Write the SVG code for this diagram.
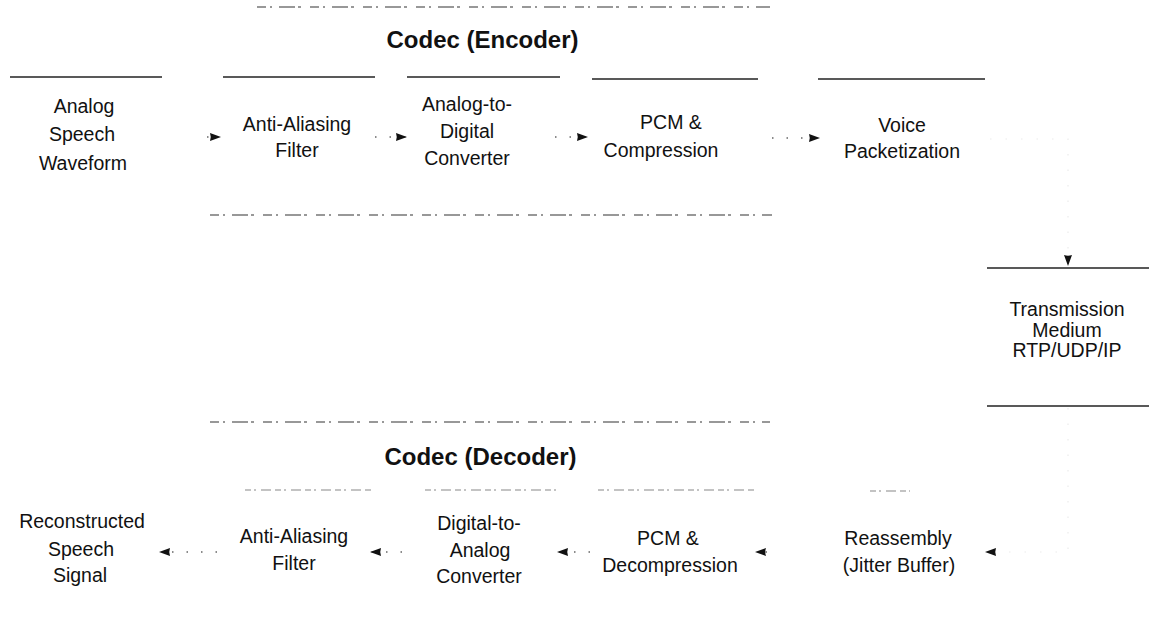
<svg xmlns="http://www.w3.org/2000/svg" width="1149" height="625" viewBox="0 0 1149 625">
  <style>
    .lbl { font-family: "Liberation Sans", Arial, sans-serif; font-size: 19.5px; fill: #111; text-anchor: middle; }
    .title { font-family: "Liberation Sans", Arial, sans-serif; font-size: 24px; font-weight: bold; fill: #111; text-anchor: middle; }
    .edge { stroke: #222; stroke-width: 1.5; fill: none; }
    .faint { stroke: #888; stroke-width: 1.2; fill: none; stroke-dasharray: 6 3 2 5 10 4; }
    .frame { stroke: #777; stroke-width: 1.3; fill: none; stroke-dasharray: 9 4 2 7 16 3 3 9; }
    .conn { stroke: #666; stroke-width: 1.6; fill: none; stroke-dasharray: 1.5 13; }
    .conn-ghost { stroke: #ececec; stroke-width: 1.2; fill: none; stroke-dasharray: 1.5 14; }
  </style>
  <defs>
    <marker id="ah" markerUnits="userSpaceOnUse" markerWidth="11" markerHeight="9" refX="11" refY="4.5" orient="auto">
      <path d="M0,0.5 L11,4.5 L0,8.5 Q1.5,4.5 0,0.5 Z" fill="#111"/>
    </marker>
  </defs>
  <rect width="1149" height="625" fill="#fff"/>

  <g id="encoder">
    <line class="frame" x1="257" y1="7" x2="770" y2="7"/>
    <text class="title" x="482.5" y="48">Codec (Encoder)</text>
    <line class="frame" x1="210" y1="215" x2="772" y2="215"/>
  </g>

  <g id="decoder">
    <line class="frame" x1="210" y1="422" x2="770" y2="422"/>
    <text class="title" x="480.5" y="465">Codec (Decoder)</text>
  </g>

  <g id="n-analog-speech">
    <line class="edge" x1="10" y1="77" x2="162" y2="77"/>
    <text class="lbl"><tspan x="84" y="113">Analog</tspan><tspan x="82" y="141">Speech</tspan><tspan x="83" y="170">Waveform</tspan></text>
  </g>
  <g id="n-anti-aliasing-enc">
    <line class="edge" x1="223" y1="77" x2="375" y2="77"/>
    <text class="lbl"><tspan x="297" y="131">Anti-Aliasing</tspan><tspan x="297" y="157">Filter</tspan></text>
  </g>
  <g id="n-adc">
    <line class="edge" x1="407" y1="77" x2="560" y2="77"/>
    <text class="lbl"><tspan x="467" y="111">Analog-to-</tspan><tspan x="467" y="138">Digital</tspan><tspan x="467" y="165">Converter</tspan></text>
  </g>
  <g id="n-pcm-comp">
    <line class="edge" x1="592" y1="79" x2="758" y2="79"/>
    <text class="lbl"><tspan x="671" y="129">PCM &amp;</tspan><tspan x="661" y="157">Compression</tspan></text>
  </g>
  <g id="n-packetization">
    <line class="edge" x1="818" y1="79" x2="985" y2="79"/>
    <text class="lbl"><tspan x="902" y="132">Voice</tspan><tspan x="902" y="158">Packetization</tspan></text>
  </g>
  <g id="n-transmission">
    <line class="edge" x1="987" y1="268" x2="1149" y2="268"/>
    <line class="edge" x1="987" y1="406" x2="1149" y2="406"/>
    <text class="lbl"><tspan x="1067" y="316">Transmission</tspan><tspan x="1067" y="336.5">Medium</tspan><tspan x="1067" y="357">RTP/UDP/IP</tspan></text>
  </g>
  <g id="n-reassembly">
    <line class="faint" x1="870" y1="491" x2="910" y2="491"/>
    <text class="lbl"><tspan x="898" y="545">Reassembly</tspan><tspan x="899" y="572">(Jitter Buffer)</tspan></text>
  </g>
  <g id="n-pcm-decomp">
    <line class="faint" x1="598" y1="490" x2="755" y2="490"/>
    <text class="lbl"><tspan x="668" y="545">PCM &amp;</tspan><tspan x="670" y="572">Decompression</tspan></text>
  </g>
  <g id="n-dac">
    <line class="faint" x1="425" y1="490" x2="558" y2="490"/>
    <text class="lbl"><tspan x="479" y="530">Digital-to-</tspan><tspan x="480" y="557">Analog</tspan><tspan x="479" y="583">Converter</tspan></text>
  </g>
  <g id="n-anti-aliasing-dec">
    <line class="faint" x1="245" y1="490" x2="372" y2="490"/>
    <text class="lbl"><tspan x="294" y="543">Anti-Aliasing</tspan><tspan x="294" y="570">Filter</tspan></text>
  </g>
  <g id="n-reconstructed">
    <text class="lbl"><tspan x="82" y="528">Reconstructed</tspan><tspan x="81" y="556">Speech</tspan><tspan x="80" y="582">Signal</tspan></text>
  </g>

  <g id="connectors">
    <path class="conn" d="M207,137 L221,137" marker-end="url(#ah)"/>
    <path class="conn" d="M375,137 L407,137" marker-end="url(#ah)"/>
    <path class="conn" d="M555,137 L588,137" marker-end="url(#ah)"/>
    <path class="conn" d="M772,138 L820,138" marker-end="url(#ah)"/>
    <path class="conn-ghost" d="M990,139 L1068,139 L1068,266" marker-end="url(#ah)"/>
    <path class="conn-ghost" d="M1068,408 L1068,552 L985,552" marker-end="url(#ah)"/>
    <path class="conn" d="M767,552 L755,552" marker-end="url(#ah)"/>
    <path class="conn" d="M590,552 L557,552" marker-end="url(#ah)"/>
    <path class="conn" d="M402,552 L370,552" marker-end="url(#ah)"/>
    <path class="conn" d="M217,552 L159,552" marker-end="url(#ah)"/>
  </g>
</svg>
